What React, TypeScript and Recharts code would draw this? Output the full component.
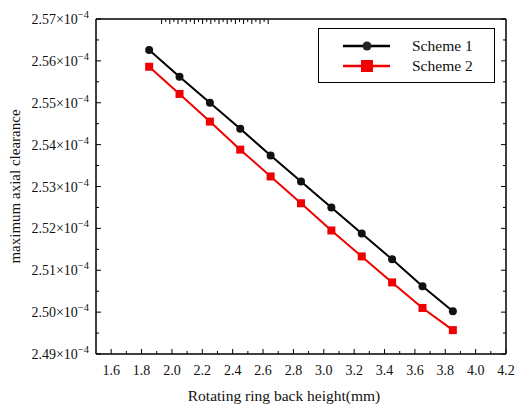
import { LineChart, Line, XAxis, YAxis, Label } from "recharts";

// rotating ring back height (mm)
const heights = [1.85, 2.05, 2.25, 2.45, 2.65, 2.85, 3.05, 3.25, 3.45, 3.65, 3.85];
// maximum axial clearance, in units of 10^-4
const scheme1 = [2.5626, 2.5562, 2.55, 2.5438, 2.5374, 2.5312, 2.525, 2.5188, 2.5126, 2.5062, 2.5002];
const scheme2 = [2.5586, 2.5521, 2.5455, 2.5388, 2.5324, 2.526, 2.5195, 2.5133, 2.5071, 2.501, 2.4957];

const xTicks = [1.6, 1.7, 1.8, 1.9, 2.0, 2.1, 2.2, 2.3, 2.4, 2.5, 2.6, 2.7, 2.8, 2.9, 3.0, 3.1, 3.2, 3.3, 3.4, 3.5, 3.6, 3.7, 3.8, 3.9, 4.0, 4.1, 4.2];
const yTicks = [2.49, 2.495, 2.5, 2.505, 2.51, 2.515, 2.52, 2.525, 2.53, 2.535, 2.54, 2.545, 2.55, 2.555, 2.56, 2.565, 2.57];

const data = heights.map((h, i) => ({ h, s1: scheme1[i], s2: scheme2[i] }));

const FONT = "'Liberation Serif', 'Times New Roman', serif";
const RED = "#f00000";
const BLACK = "#000";

const isMajor = (i: number) => i % 2 === 0;

const BottomTick = (props: any) => {
  const { x, y, index, payload } = props;
  const len = isMajor(index) ? 5 : 3;
  return (
    <g>
      <line x1={x} y1={y} x2={x} y2={y - len} stroke={BLACK} strokeWidth={1} />
      {isMajor(index) && (
        <text x={x} y={y + 21} textAnchor="middle" fontSize={14} fontFamily={FONT} fill="#111">
          {payload.value.toFixed(1)}
        </text>
      )}
    </g>
  );
};

const TopTick = (props: any) => {
  const { x, y, index } = props;
  const len = isMajor(index) ? 5 : 3;
  return <line x1={x} y1={y} x2={x} y2={y + len} stroke={BLACK} strokeWidth={1} />;
};

const LeftTick = (props: any) => {
  const { x, y, index, payload } = props;
  const len = isMajor(index) ? 5 : 3;
  return (
    <g>
      <line x1={x} y1={y} x2={x + len} y2={y} stroke={BLACK} strokeWidth={1} />
      {isMajor(index) && (
        <text x={x - 7} y={y + 5} textAnchor="end" fontSize={14} fontFamily={FONT} fill="#111">
          <tspan>{payload.value.toFixed(2)}×10</tspan>
          <tspan dy={-6} fontSize={10.5}>−4</tspan>
        </text>
      )}
    </g>
  );
};

const RightTick = (props: any) => {
  const { x, y, index } = props;
  const len = isMajor(index) ? 5 : 3;
  return <line x1={x} y1={y} x2={x - len} y2={y} stroke={BLACK} strokeWidth={1} />;
};

const SquareDot = (props: any) => {
  const { cx, cy, index } = props;
  return <rect key={`sq-${index}`} x={cx - 4} y={cy - 4} width={8} height={8} fill={RED} />;
};

const legendItems = [
  { name: "Scheme 1", color: BLACK, shape: "circle" },
  { name: "Scheme 2", color: RED, shape: "square" },
];

const LegendBox = () => (
  <div
    style={{
      position: "absolute",
      left: 318,
      top: 28,
      border: "1.5px solid #000",
      width: 177,
      height: 55,
      boxSizing: "border-box",
      background: "#fff",
      paddingTop: 7,
    }}
  >
    {legendItems.map((it) => (
      <div key={it.name} style={{ display: "flex", alignItems: "center", height: 20 }}>
        <svg width={93} height={20} style={{ display: "block" }}>
          <line x1={24} y1={10} x2={71} y2={10} stroke={it.color} strokeWidth={2.5} />
          {it.shape === "circle" ? (
            <circle cx={48} cy={10} r={4.5} fill="#222" />
          ) : (
            <rect x={42} y={4} width={12} height={12} fill={it.color} />
          )}
        </svg>
        <span style={{ fontFamily: FONT, fontSize: 15.5, color: "#111", lineHeight: "20px" }}>{it.name}</span>
      </div>
    ))}
  </div>
);

export default function App() {
  return (
    <div style={{ position: "absolute", left: 0, top: 0, width: 515, height: 405, background: "#fff" }}>
      <LineChart width={515} height={405} data={data} margin={{ top: 0, right: 0, left: 0, bottom: 0 }}>
        <XAxis
          xAxisId="b"
          dataKey="h"
          type="number"
          domain={[1.5, 4.2]}
          allowDataOverflow
          ticks={xTicks}
          interval={0}
          height={51}
          tickSize={0}
          tickMargin={0}
          tick={<BottomTick />}
          axisLine={{ stroke: BLACK, strokeWidth: 1.5 }}
          tickLine={false}
        >
          <Label
            value="Rotating ring back height(mm)"
            position="insideBottom"
            offset={4}
            dx={-17}
            style={{ fontFamily: FONT, fontSize: 15.5, fill: "#111" }}
          />
        </XAxis>
        <XAxis
          xAxisId="t"
          orientation="top"
          type="number"
          domain={[1.5, 4.2]}
          allowDataOverflow
          ticks={xTicks}
          interval={0}
          height={19}
          tickSize={0}
          tickMargin={0}
          tick={<TopTick />}
          axisLine={{ stroke: BLACK, strokeWidth: 1.5 }}
          tickLine={false}
        />
        <YAxis
          yAxisId="l"
          type="number"
          domain={[2.49, 2.57]}
          allowDataOverflow
          ticks={yTicks}
          interval={0}
          width={96}
          tickSize={0}
          tickMargin={0}
          tick={<LeftTick />}
          axisLine={{ stroke: BLACK, strokeWidth: 1.5 }}
          tickLine={false}
        >
          <Label
            content={(p: any) => {
              const vb = p.viewBox;
              const cx = vb.x + 15;
              const cy = vb.y + vb.height / 2;
              return (
                <text
                  x={cx}
                  y={cy}
                  transform={`rotate(-90 ${cx} ${cy})`}
                  textAnchor="middle"
                  dominantBaseline="central"
                  fontFamily={FONT}
                  fontSize={15}
                  fill="#111"
                >
                  maximum axial clearance
                </text>
              );
            }}
          />
        </YAxis>
        <YAxis
          yAxisId="r"
          orientation="right"
          type="number"
          domain={[2.49, 2.57]}
          allowDataOverflow
          ticks={yTicks}
          interval={0}
          width={9}
          tickSize={0}
          tickMargin={0}
          tick={<RightTick />}
          axisLine={{ stroke: BLACK, strokeWidth: 1.5 }}
          tickLine={false}
        />
        <Line
          xAxisId="b"
          yAxisId="l"
          dataKey="s1"
          name="Scheme 1"
          type="linear"
          stroke={BLACK}
          strokeWidth={2}
          dot={{ r: 4, fill: "#111", stroke: "#111", strokeWidth: 0 }}
          isAnimationActive={false}
        />
        <Line
          xAxisId="b"
          yAxisId="l"
          dataKey="s2"
          name="Scheme 2"
          type="linear"
          stroke={RED}
          strokeWidth={2}
          dot={<SquareDot />}
          isAnimationActive={false}
        />
      </LineChart>
      <LegendBox />
    </div>
  );
}
